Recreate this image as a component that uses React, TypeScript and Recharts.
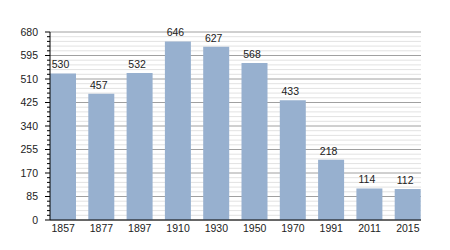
import React from "react";
import { BarChart, Bar, XAxis, YAxis, CartesianGrid, LabelList } from "recharts";

const years = ["1857", "1877", "1897", "1910", "1930", "1950", "1970", "1991", "2011", "2015"];
const population = [530, 457, 532, 646, 627, 568, 433, 218, 114, 112];
const majorTicks = [0, 85, 170, 255, 340, 425, 510, 595, 680];
const minorPerMajor = 5;

const allTicks: number[] = [];
for (let i = 0; i < majorTicks.length - 1; i++) {
  const step = (majorTicks[i + 1] - majorTicks[i]) / minorPerMajor;
  for (let j = 0; j < minorPerMajor; j++) allTicks.push(majorTicks[i] + j * step);
}
allTicks.push(majorTicks[majorTicks.length - 1]);

const data = years.map((y, i) => ({ year: y, value: population[i] }));

const FONT = "'Liberation Sans', Arial, sans-serif";

const YTick = (props: any) => {
  const { x, y, payload } = props;
  const v = payload.value;
  const isMajor = majorTicks.includes(v);
  return (
    <g>
      <line x1={x - (isMajor ? 5 : 3)} x2={x} y1={y} y2={y} stroke="#000" strokeWidth={1} />
      {isMajor && (
        <text x={x - 12} y={y} dy="0.35em" textAnchor="end" fontSize={10.5} fontFamily={FONT} fill="#222">
          {v}
        </text>
      )}
    </g>
  );
};

const GridLine = (props: any) => {
  const { x1, x2, y1, y2, index } = props;
  const isMajor = index % minorPerMajor === 0;
  return (
    <line
      key={`g-${index}`}
      x1={x1}
      x2={x2}
      y1={y1}
      y2={y2}
      stroke={isMajor ? "#a0a0a0" : "#e2e2e2"}
      strokeWidth={1}
    />
  );
};

const BarLabel = (props: any) => {
  const { x, y, width, value } = props;
  return (
    <text x={x + width / 2 - 2.5} y={y - 5} textAnchor="middle" fontSize={10.5} fontFamily={FONT} fill="#222">
      {value}
    </text>
  );
};

export default function App() {
  return (
    <div style={{ position: "absolute", left: 0, top: 0, width: 450, height: 250, background: "#fff" }}>
      <BarChart width={450} height={250} data={data} margin={{ top: 32, right: 29, left: 0, bottom: 0 }}>
        <CartesianGrid vertical={false} horizontal={GridLine} />
        <XAxis
          dataKey="year"
          height={30}
          padding={{ left: -6, right: -6 }}
          tickLine={false}
          tickSize={0}
          tickMargin={5}
          axisLine={{ stroke: "#000" }}
          tick={{ fontSize: 10.5, fontFamily: FONT, fill: "#222" }}
          interval={0}
        />
        <YAxis
          width={50}
          domain={[0, 680]}
          ticks={allTicks}
          interval={0}
          tickLine={false}
          tickSize={0}
          tickMargin={0}
          axisLine={{ stroke: "#000" }}
          tick={<YTick />}
        />
        <Bar dataKey="value" fill="#97b0cf" barSize={26} isAnimationActive={false}>
          <LabelList dataKey="value" content={<BarLabel />} />
        </Bar>
      </BarChart>
    </div>
  );
}
